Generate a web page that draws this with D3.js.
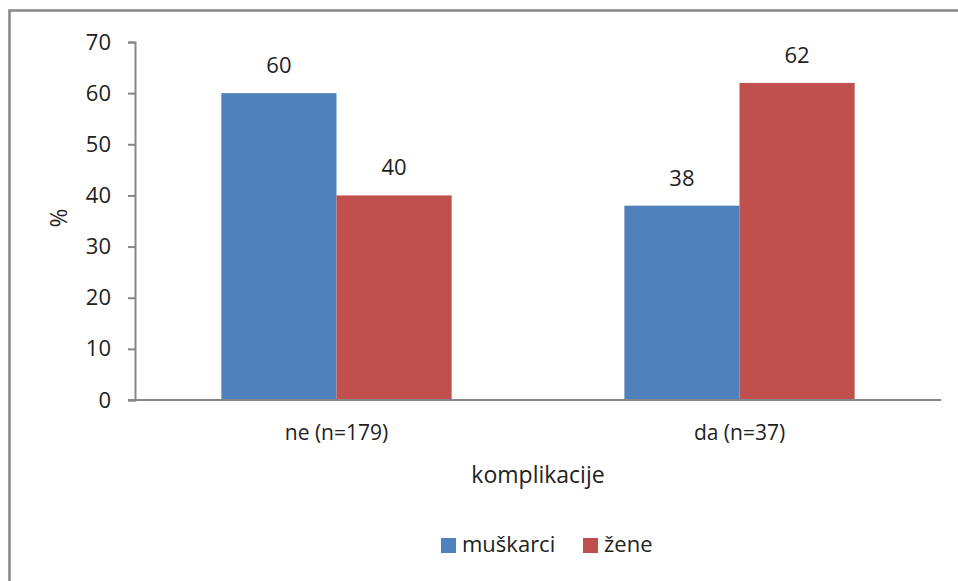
<!DOCTYPE html>
<html><head><meta charset="utf-8">
<script src="https://cdn.jsdelivr.net/npm/d3@7"></script>
<style>body{margin:0;background:#fff}svg{display:block}text{font-family:"Open Sans",sans-serif;fill:#222}</style>
</head><body><svg id="c" width="958" height="581"></svg>
<script>
const categories = ["ne (n=179)", "da (n=37)"];
const seriesNames = ["muškarci", "žene"];
const muskarci = [60, 38];
const zene = [40, 62];
const yTicks = [0, 10, 20, 30, 40, 50, 60, 70];
const colors = ["#4F81BD", "#C0504D"];

const svg = d3.select("#c");
const fsNum = 22, fsCat = 21, fsTitle = 23, fsLeg = 22;
// outer border (left & top visible)
svg.append("path").attr("d","M9.5,581 L9.5,10.5 L958,10.5").attr("fill","none").attr("stroke","#868686").attr("stroke-width",2.5);

const x0 = d3.scaleBand().domain(categories).range([135, 941]).paddingInner(0).paddingOuter(0);
const y = d3.scaleLinear().domain([0, 70]).range([400, 42]);
const x1 = d3.scaleBand().domain(seriesNames).range([0, x0.bandwidth()]).paddingInner(0).paddingOuter(0.75);

const data = categories.map((c, i) => ({cat: c, vals: [muskarci[i], zene[i]]}));

const g = svg.append("g");
data.forEach(d => {
  d.vals.forEach((v, j) => {
    const bx = x0(d.cat) + x1(seriesNames[j]);
    g.append("rect").attr("x", bx).attr("y", y(v)).attr("width", x1.bandwidth()).attr("height", y(0) - y(v)).attr("fill", colors[j]);
    g.append("text").attr("x", bx + x1.bandwidth()/2).attr("y", y(v) - 20).attr("text-anchor","middle").attr("font-size", fsNum).text(v);
  });
});

// y axis
const ya = svg.append("g").attr("transform","translate(135,0)").call(d3.axisLeft(y).tickValues(yTicks).tickSize(7).tickPadding(17));
ya.select(".domain").attr("stroke","#868686").attr("stroke-width",2);
ya.selectAll(".tick line").attr("stroke","#868686").attr("stroke-width",2);
ya.selectAll(".tick text").attr("font-size", fsNum).attr("fill","#222").attr("font-family","'Open Sans',sans-serif");
// x axis
const xa = svg.append("g").attr("transform","translate(0,400)").call(d3.axisBottom(x0).tickSize(0).tickPadding(25));
xa.select(".domain").attr("stroke","#868686").attr("stroke-width",2).attr("d","M128,0H941");
xa.selectAll(".tick text").attr("font-size", fsCat).attr("fill","#222").attr("font-family","'Open Sans',sans-serif");

svg.append("text").attr("x", 538).attr("y", 483).attr("text-anchor","middle").attr("font-size", fsTitle).text("komplikacije");
svg.append("text").attr("transform","translate(67,218) rotate(-90)").attr("text-anchor","middle").attr("font-size", 23).text("%");

// legend
const leg = svg.append("g");
const legX = [441, 583];
seriesNames.forEach((n, j) => {
  leg.append("rect").attr("x", legX[j]).attr("y", 538).attr("width", 15).attr("height", 15).attr("fill", colors[j]);
  leg.append("text").attr("x", legX[j] + 21).attr("y", 552).attr("font-size", fsLeg).text(n);
});
</script></body></html>
